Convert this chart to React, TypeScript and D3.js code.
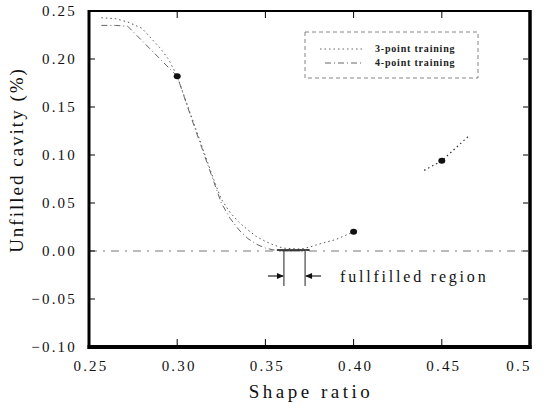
import React from "react";
import * as d3 from "d3";

const xTicks = [0.25, 0.3, 0.35, 0.4, 0.45, 0.5];
const xTickLabels = ["0.25", "0.30", "0.35", "0.40", "0.45", "0.5"];
const yTicks = [0.25, 0.2, 0.15, 0.1, 0.05, 0.0, -0.05, -0.1];
const yTickLabels = ["0.25", "0.20", "0.15", "0.10", "0.05", "0.00", "−0.05", "−0.10"];

// 3-point training curve (dotted)
const threeX = [0.257, 0.265, 0.272, 0.28, 0.285, 0.29, 0.295, 0.3, 0.31, 0.32, 0.325, 0.33, 0.335, 0.34, 0.345, 0.35, 0.355, 0.36, 0.37, 0.375, 0.38, 0.39, 0.4];
const threeY = [0.243, 0.242, 0.2385, 0.232, 0.222, 0.212, 0.2, 0.182, 0.13, 0.078, 0.054, 0.04, 0.03, 0.022, 0.015, 0.01, 0.006, 0.003, 0.002, 0.004, 0.007, 0.012, 0.02];
const threeTailX = [0.44, 0.45, 0.466];
const threeTailY = [0.084, 0.094, 0.121];
// 4-point training curve (dash-dot)
const fourX = [0.257, 0.265, 0.272, 0.3, 0.31, 0.32, 0.325, 0.33, 0.335, 0.34, 0.345, 0.35, 0.355, 0.36, 0.37, 0.375];
const fourY = [0.235, 0.235, 0.234, 0.182, 0.128, 0.076, 0.05, 0.034, 0.022, 0.013, 0.007, 0.003, 0.001, 0.0, 0.0, 0.001];
// marked points
const ptX = [0.3, 0.4, 0.45];
const ptY = [0.182, 0.02, 0.094];
// fulfilled region bounds
const regionX = [0.3605, 0.3725];

const legendLabels = ["3-point training", "4-point training"];

export default function App() {
  const W = 543, H = 404;
  const x = d3.scaleLinear().domain([0.25, 0.5]).range([89, 530]);
  const y = d3.scaleLinear().domain([-0.1, 0.25]).range([347, 11]);
  const line = d3.line<[number, number]>().x(d => x(d[0])).y(d => y(d[1])).curve(d3.curveLinear);
  const three = threeX.map((v, i) => [v, threeY[i]] as [number, number]);
  const threeTail = threeTailX.map((v, i) => [v, threeTailY[i]] as [number, number]);
  const four = fourX.map((v, i) => [v, fourY[i]] as [number, number]);
  const font = "'Liberation Serif', 'DejaVu Serif', serif";
  const ya = y(0);
  const arrowY = ya + 25;
  return (
    <svg width={W} height={H} style={{ position: "absolute", left: 0, top: 0, background: "#fff" }}>
      {/* zero line */}
      <line x1={x(0.25)} x2={x(0.5)} y1={ya} y2={ya} stroke="#777" strokeWidth={1} strokeDasharray="8,6,2,6" />
      {/* curves */}
      <path d={line(three) || ""} fill="none" stroke="#555" strokeWidth={1} strokeDasharray="1.5,3" />
      <path d={line(threeTail) || ""} fill="none" stroke="#333" strokeWidth={1.2} strokeDasharray="1.5,3" />
      <path d={line(four) || ""} fill="none" stroke="#666" strokeWidth={1} strokeDasharray="6,3,1,3" />
      {/* region bottom thick */}
      <line x1={x(0.3565)} x2={x(0.375)} y1={ya - 1} y2={ya - 1} stroke="#111" strokeWidth={1.5} />
      {/* points */}
      {ptX.map((v, i) => (
        <ellipse key={i} cx={x(v)} cy={y(ptY[i])} rx={3.5} ry={3} fill="#111" />
      ))}
      {/* region annotation */}
      {regionX.map((v, i) => (
        <line key={i} x1={x(v)} x2={x(v)} y1={ya} y2={ya + 35} stroke="#222" strokeWidth={1} />
      ))}
      <line x1={x(regionX[0]) - 16} x2={x(regionX[0]) - 1} y1={arrowY} y2={arrowY} stroke="#222" strokeWidth={1.2} />
      <path d={`M${x(regionX[0])},${arrowY} l-7,-3 l0,6 z`} fill="#111" />
      <line x1={x(regionX[1]) + 1} x2={x(regionX[1]) + 16} y1={arrowY} y2={arrowY} stroke="#222" strokeWidth={1.2} />
      <path d={`M${x(regionX[1])},${arrowY} l7,-3 l0,6 z`} fill="#111" />
      <text x={340} y={arrowY + 6} fontFamily={font} fontSize={16} letterSpacing={2.8} fill="#111">fullfilled region</text>
      {/* legend */}
      <rect x={305} y={32} width={173} height={46} fill="none" stroke="#666" strokeWidth={0.8} strokeDasharray="4,3" />
      <line x1={320} x2={362} y1={49} y2={49} stroke="#666" strokeDasharray="1.5,3" />
      <line x1={325} x2={362} y1={63} y2={63} stroke="#666" strokeDasharray="6,3,1,3" />
      {legendLabels.map((t, i) => (
        <text key={t} x={375} y={52 + i * 14} fontFamily={font} fontSize={10} fontWeight="bold" letterSpacing={0.8} fill="#222">{t}</text>
      ))}
      {/* frame */}
      <line x1={89} x2={530} y1={11} y2={11} stroke="#000" strokeWidth={2} />
      <line x1={89} x2={89} y1={10} y2={349} stroke="#000" strokeWidth={3} />
      <line x1={87.5} x2={531.5} y1={347} y2={347} stroke="#000" strokeWidth={4} />
      <line x1={530} x2={530} y1={10} y2={349} stroke="#000" strokeWidth={3.5} />
      {/* ticks */}
      {xTicks.slice(1, -1).map(v => (
        <g key={v}>
          <line x1={x(v)} x2={x(v)} y1={345} y2={339} stroke="#000" strokeWidth={1} />
          <line x1={x(v)} x2={x(v)} y1={12} y2={18} stroke="#000" strokeWidth={1} />
        </g>
      ))}
      {yTicks.slice(1, -1).map(v => (
        <g key={v}>
          <line x1={90} x2={95} y1={y(v)} y2={y(v)} stroke="#000" strokeWidth={1} />
          <line x1={528} x2={523} y1={y(v)} y2={y(v)} stroke="#000" strokeWidth={1} />
        </g>
      ))}
      {/* tick labels */}
      {xTicks.map((v, i) => (
        <text key={v} x={i === xTicks.length - 1 ? x(v) - 11 : x(v) + 2} y={371} textAnchor="middle" fontFamily={font} fontSize={15} letterSpacing={2.2} fill="#111">{xTickLabels[i]}</text>
      ))}
      {yTicks.map((v, i) => (
        <text key={v} x={77} y={y(v) + 5} textAnchor="end" fontFamily={font} fontSize={15} letterSpacing={2.2} fill="#111">{yTickLabels[i]}</text>
      ))}
      {/* axis titles */}
      <text x={311} y={398} textAnchor="middle" fontFamily={font} fontSize={19} letterSpacing={3.5} fill="#111">Shape ratio</text>
      <text transform="translate(23,160) rotate(-90)" textAnchor="middle" fontFamily={font} fontSize={19} letterSpacing={2} fill="#111">Unfilled cavity (%)</text>
    </svg>
  );
}
